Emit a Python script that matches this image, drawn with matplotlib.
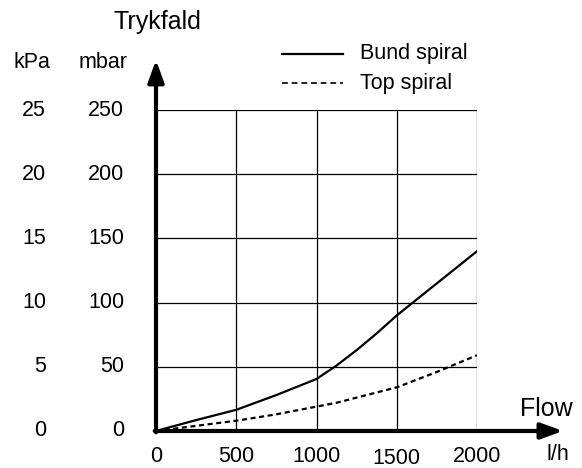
import matplotlib
matplotlib.use("Agg")
import matplotlib.pyplot as plt
from matplotlib.lines import Line2D

plt.rcParams['font.family'] = ['Liberation Sans', 'DejaVu Sans']

flow = [0, 250, 500, 750, 1000, 1125, 1250, 1375, 1500, 1750, 2000]
bund = [0, 8.5, 16.5, 28, 40.5, 51, 63, 76, 90, 115, 140]
top = [0, 4, 8, 13, 19, 22, 26, 30, 34, 46, 59]
x_ticks = [0, 500, 1000, 1500, 2000]
y_ticks_mbar = [0, 50, 100, 150, 200, 250]
y_ticks_kpa = [0, 5, 10, 15, 20, 25]

W, H = 582, 468
fig = plt.figure(figsize=(W / 100, H / 100), dpi=100)
x0, x1, y0, y1 = 156, 477, 431, 110
ax = fig.add_axes([x0 / W, 1 - y0 / H, (x1 - x0) / W, (y0 - y1) / H])
ax.set_xlim(0, 2000)
ax.set_ylim(0, 250)
for s in ax.spines.values():
    s.set_visible(False)
ax.set_xticks([])
ax.set_yticks([])

for xv in x_ticks[1:]:
    ax.plot([xv, xv], [0, 250], color='black', lw=0.9)
for yv in y_ticks_mbar[1:]:
    ax.plot([0, 2000], [yv, yv], color='black', lw=0.9)

ax.plot(flow, bund, color='black', lw=1.6)
ax.plot(flow, top, color='black', lw=1.6, dashes=(2.3, 1.6))

# axes arrows
ax.annotate('', xy=(0, 289), xytext=(0, -1), xycoords='data',
            arrowprops=dict(arrowstyle='-|>,head_length=0.55,head_width=0.2',
                            lw=3, color='black', mutation_scale=24,
                            shrinkA=0, shrinkB=0), annotation_clip=False)
ax.annotate('', xy=(2536, 0), xytext=(-8, 0), xycoords='data',
            arrowprops=dict(arrowstyle='-|>,head_length=0.55,head_width=0.2',
                            lw=3, color='black', mutation_scale=24,
                            shrinkA=0, shrinkB=0), annotation_clip=False)

def fx(px):
    return px / W

def fy(py):
    return 1 - py / H

fs = 15.5
# y labels
for k, m in zip(y_ticks_kpa, y_ticks_mbar):
    yp = 431 - m * (431 - 110) / 250
    fig.text(fx(46), fy(yp), str(k), ha='right', va='center', fontsize=fs)
    fig.text(fx(124), fy(yp), str(m), ha='right', va='center', fontsize=fs)
fig.text(fx(32), fy(63), 'kPa', ha='center', va='center', fontsize=fs)
fig.text(fx(103), fy(63), 'mbar', ha='center', va='center', fontsize=fs)
fig.text(fx(157), fy(22), 'Trykfald', ha='center', va='center', fontsize=18)

# x labels
for xv in x_ticks:
    xp = 156 + xv * (477 - 156) / 2000
    yp = 459 if xv == 1500 else 457
    fig.text(fx(xp), fy(yp), str(xv), ha='center', va='center', fontsize=fs)
fig.text(fx(558), fy(455), 'l/h', ha='center', va='center', fontsize=fs)
fig.text(fx(546), fy(409), 'Flow', ha='center', va='center', fontsize=18)

# legend
fig.add_artist(Line2D([fx(282), fx(343)], [fy(54), fy(54)], color='black', lw=1.6))
fig.add_artist(Line2D([fx(282), fx(343)], [fy(83), fy(83)], color='black', lw=1.2,
                      dashes=(3.5, 2.3)))
fig.text(fx(360), fy(53), 'Bund spiral', ha='left', va='center', fontsize=fs)
fig.text(fx(360), fy(83), 'Top spiral', ha='left', va='center', fontsize=fs)

fig.savefig('out.png', dpi=100)
